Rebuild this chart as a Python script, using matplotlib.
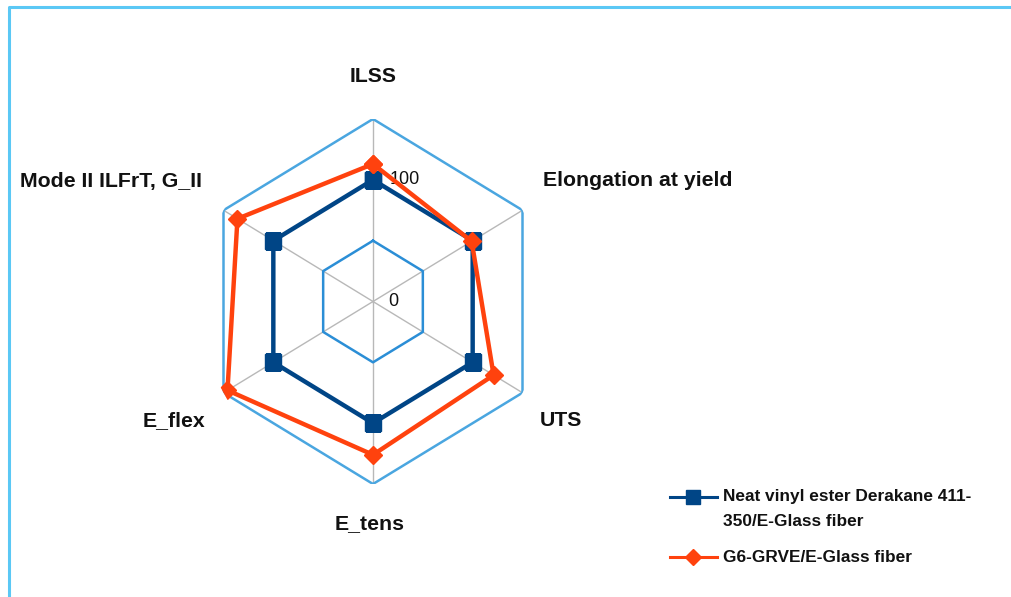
import numpy as np
import matplotlib
matplotlib.use("Agg")
import matplotlib.pyplot as plt
from matplotlib.lines import Line2D

plt.rcParams['font.family'] = ['Liberation Sans', 'DejaVu Sans']

# data
categories = ['ILSS', 'Elongation at yield', 'UTS', 'E_tens', 'E_flex', 'Mode II ILFrT, G_II']
neat_vals = [100, 100, 100, 100, 100, 100]
grve_vals = [113, 99, 121, 126, 146, 136]
series_names = ['Neat vinyl ester Derakane 411-\n350/E-Glass fiber', 'G6-GRVE/E-Glass fiber']
grid_levels = [50, 100, 150]
tick_levels = [0, 100]

W, H = 1012, 597
fig = plt.figure(figsize=(W / 100, H / 100), dpi=100)

def fx(px):
    return px / W

def fy(py):
    return 1 - py / H

# polar axes centred at (373, 301.5) px; the original is a bit squashed horizontally
cx, cy, Ry = 373, 301.5, 182.5
Rx = 149.5 / np.cos(np.pi / 6)
ax = fig.add_axes([fx(cx - Rx), fy(cy + Ry), 2 * Rx / W, 2 * Ry / H], projection='polar')
ax.set_aspect('auto')
ax.set_theta_offset(np.pi / 2)
ax.set_theta_direction(-1)
ax.set_ylim(0, 150)
ax.set_xticks([])
ax.set_yticks([])
ax.grid(False)
ax.spines['polar'].set_visible(False)
ax.patch.set_alpha(0)

n = len(categories)
theta = np.arange(n) * 2 * np.pi / n
theta_c = np.append(theta, theta[0])

# spokes
for t in theta:
    ax.plot([t, t], [0, 150], color='#b8b8b8', lw=1.0, zorder=1)
# hexagon grid
for lv, col, lw in zip(grid_levels, ['#2b8ed6', '#3a9ad9', '#4aa6e0'], [1.8, 1.4, 1.8]):
    ax.plot(theta_c, [lv] * (n + 1), color=col, lw=lw, zorder=1)

neat_c = neat_vals + neat_vals[:1]
grve_c = grve_vals + grve_vals[:1]
ax.plot(theta_c, neat_c, color='#004586', lw=3.2, marker='s', ms=11, zorder=3)
ax.plot(theta_c, grve_c, color='#ff420e', lw=3.2, marker='D', ms=9, zorder=4)

for lv in tick_levels:
    ax.annotate(str(lv), xy=(0, lv), xytext=(11 if lv == 0 else 12, 0), textcoords='offset points',
                ha='left', va='center', fontsize=13, color='#111111')

# category labels
label_pos = [(373, 77, 'center'), (543, 181, 'left'), (540, 421, 'left'),
             (370, 524, 'center'), (205, 421, 'right'), (202, 181, 'right')]
for name, (px, py, ha) in zip(categories, label_pos):
    fig.text(fx(px), fy(py), name, ha=ha, va='center', fontsize=15.3, fontweight='bold', color='#111111')

# legend drawn by hand
leg = [(497, '#004586', 's', 10), (557, '#ff420e', 'D', 8)]
for name, (py, col, mk, ms) in zip(series_names, leg):
    fig.add_artist(Line2D([fx(670), fx(717)], [fy(py), fy(py)], color=col, lw=2.2))
    fig.add_artist(Line2D([fx(693.5)], [fy(py)], color=col, marker=mk, ms=ms, lw=0))
    for k, line in enumerate(name.split('\n')):
        fig.text(fx(723), fy(py + 25 * k), line, ha='left', va='center', fontsize=12.4,
                 fontweight='bold', color='#111111')

# frame (left and top edges)
fig.add_artist(Line2D([fx(9), fx(9), fx(W)], [0, fy(7), fy(7)], color='#5bc8f5', lw=2.2))

fig.savefig('out.png', dpi=100)
